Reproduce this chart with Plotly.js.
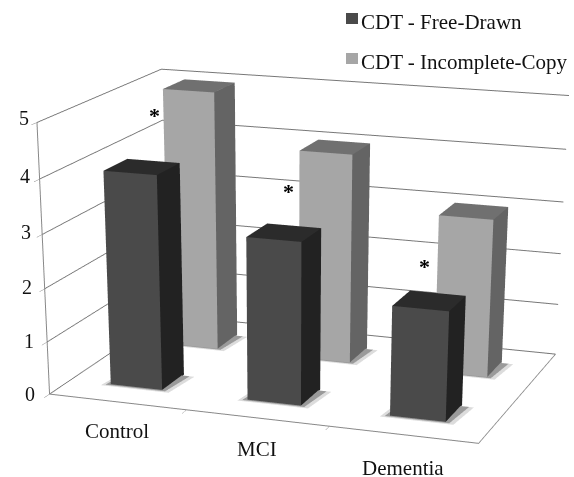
<!DOCTYPE html>
<html><head><meta charset="utf-8">
<script src="https://cdn.plot.ly/plotly-3.0.1.min.js"></script>
<style>html,body{margin:0;padding:0;background:#fff;overflow:hidden;width:574px;height:477px}
#c{position:absolute;left:0;top:-258px;width:574px;height:1856px}</style></head>
<body><div id="c"></div>
<script>
const categories=["Control","MCI","Dementia"];
const seriesNames=["CDT - Free-Drawn","CDT - Incomplete-Copy"];
const freeDrawn=[4.03,3.05,2.05];
const incompleteCopy=[5.0,4.03,3.03];
const zTicks=[0,1,2,3,4,5];
const starLevels=[4.37,3.12,1.89];
const palette=[{top:"#2b2b2b",front:"#4a4a4a",side:"#222222"},{top:"#707070",front:"#a6a6a6",side:"#646464"}];
const H=1856,TOP=258;
const py=v=>1-(v+TOP)/H, px=v=>v/574;
const faces=[[0,1,5],[0,5,4],[1,2,6],[1,6,5],[4,5,6],[4,6,7],[0,3,7],[0,7,4],[3,2,6],[3,6,7]];
const flat={ambient:1,diffuse:0,specular:0,roughness:1,fresnel:0};
function box(xc,yc,h,p,name){
  const w=0.19,d=0.19;
  const X=[xc-w,xc+w,xc+w,xc-w,xc-w,xc+w,xc+w,xc-w],Y=[yc-d,yc-d,yc+d,yc+d,yc-d,yc-d,yc+d,yc+d],Z=[0,0,0,0,h,h,h,h];
  const c=[p.front,p.front,p.side,p.side,p.top,p.top,p.front,p.front,p.front,p.front];
  return {type:"mesh3d",name,x:X,y:Y,z:Z,i:faces.map(a=>a[0]),j:faces.map(a=>a[1]),k:faces.map(a=>a[2]),facecolor:c,flatshading:true,
    lighting:flat,hoverinfo:"skip",showscale:false,showlegend:false};
}
function shadow(xc,yc,w,d,col,lift){
  return {type:"mesh3d",x:[xc-w,xc+w,xc+w+0.03,xc-w+0.03],y:[yc-d-0.03,yc-d-0.03,yc+d-0.03,yc+d-0.03],z:[lift,lift,lift,lift],i:[0,0],j:[1,2],k:[2,3],color:col,flatshading:true,
    lighting:flat,hoverinfo:"skip",showscale:false,showlegend:false};
}
const data=[];
[incompleteCopy,freeDrawn].forEach((s,k)=>{const si=1-k;s.forEach((v,i)=>{
  data.push(shadow(i,si,0.25,0.19,"#dcdcdc",0.01));
  data.push(shadow(i,si,0.22,0.18,"#9a9a9a",0.02));
  data.push(box(i,si,v,palette[si],categories[i]));
})});
const sceneAnn=[];
zTicks.forEach(t=>sceneAnn.push({x:-0.5,y:-0.5,z:t,text:String(t),showarrow:false,xanchor:"right",xshift:-13+1.4*t,yshift:0.8*t,font:{family:"Liberation Serif",size:20,color:"#111"}}));
categories.forEach((c,i)=>sceneAnn.push({x:i,y:-0.5,z:0,text:c,showarrow:false,yshift:-29-2*i,font:{family:"Liberation Serif",size:21,color:"#111"}}));
starLevels.forEach((v,i)=>sceneAnn.push({x:i-0.34,y:1,z:v,text:"<b>*</b>",showarrow:false,font:{family:"Liberation Serif",size:22,color:"#000"}}));
const annotations=seriesNames.map((n,i)=>({xref:"paper",yref:"paper",x:px(359),y:py(22+i*40),text:n,showarrow:false,xanchor:"left",yanchor:"middle",font:{family:"Liberation Serif",size:21,color:"#111"}}));
const shapes=seriesNames.map((n,i)=>({type:"rect",xref:"paper",yref:"paper",x0:px(346),x1:px(358),y0:py(13+i*40),y1:py(24+i*40),fillcolor:palette[i].front,line:{width:0}}));
const layout={width:574,height:H,paper_bgcolor:"#fff",margin:{l:0,r:0,t:0,b:0},showlegend:false,annotations,shapes,
 scene:{domain:{x:[0,1],y:[0,1]},aspectmode:"manual",aspectratio:{x:1.65,y:1.136,z:1},
  camera:{eye:{x:2.714,y:-7.791,z:2.064},center:{x:0.254,y:-0.958,z:-1.292},up:{x:0,y:0,z:1},projection:{type:"perspective"}},
  annotations:sceneAnn,
  xaxis:{range:[-0.5,2.5],tickvals:[0.5,1.5],showticklabels:false,ticks:"outside",ticklen:4,tickcolor:"#888",showgrid:false,zeroline:false,showbackground:false,showline:true,linecolor:"#888",linewidth:2,title:{text:""},showspikes:false},
  yaxis:{range:[-0.5,1.5],tickvals:[],showgrid:false,zeroline:false,showbackground:false,showline:true,linecolor:"#888",linewidth:2,title:{text:""},showspikes:false},
  zaxis:{range:[0,5],tickvals:zTicks,showticklabels:false,ticks:"outside",ticklen:4,tickcolor:"#888",showgrid:true,gridcolor:"#777",gridwidth:2,zeroline:false,showbackground:false,showline:true,linecolor:"#888",linewidth:2,title:{text:""},showspikes:false}
 }};
Plotly.newPlot("c",data,layout,{displayModeBar:false});
</script></body></html>
